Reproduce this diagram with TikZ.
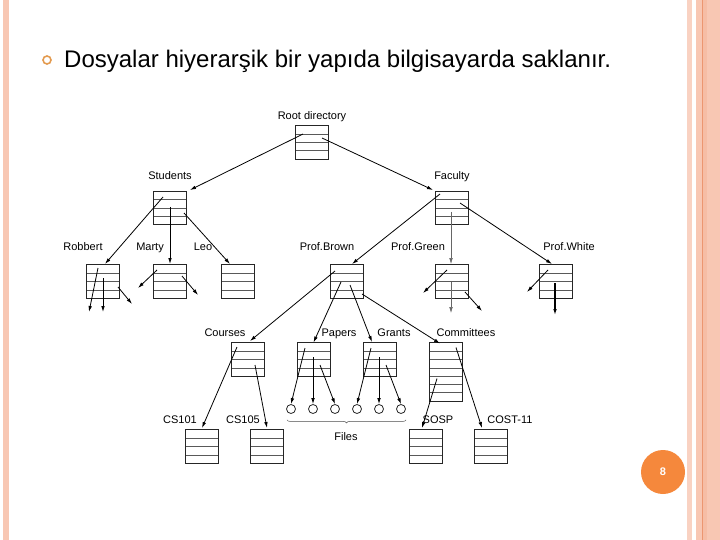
\documentclass[tikz,border=0pt]{standalone}
\usepackage{fontspec}
\setmainfont{Liberation Sans}
\usetikzlibrary{arrows.meta,decorations.pathreplacing}

\definecolor{slideline}{HTML}{F8C7B3}
\definecolor{slidedark}{HTML}{EC9670}
\definecolor{pagedot}{HTML}{F5883C}
\definecolor{bulletcol}{HTML}{E39A4E}

\tikzset{
  dirbox/.style={draw=black!85, line width=1pt, inner sep=0pt,
    minimum width=33pt, minimum height=#1*8.3pt,
    path picture={\foreach \r in {1,...,#1}{\draw[black!65, line width=0.6pt]
      ([yshift=-\r*8.3pt]path picture bounding box.north west) --
      ([yshift=-\r*8.3pt]path picture bounding box.north east);}}},
  dirbox/.default=4,
  lbl/.style={font=\fontsize{11}{13}\selectfont, inner sep=0pt, text height=8pt, text depth=2pt},
  file/.style={circle, draw=black!85, line width=0.8pt, minimum size=9pt, inner sep=0pt},
  arr/.style={-{Latex[length=6pt,width=3.6pt]}, line width=0.8pt},
  thinarr/.style={arr, black!60, line width=0.5pt}
}

\begin{document}
\begin{tikzpicture}[x=1pt,y=-1pt]
    \useasboundingbox (0,0) rectangle (720,540);
    % slide frame
    \fill[slideline] (3,0) rectangle (9,540);
    \fill[slideline!80] (687,0) rectangle (692,540);
    \fill[slideline] (696,0) rectangle (720,540);
    \fill[slideline!80!slidedark] (702,0) rectangle (707,540);
    \draw[slidedark, line width=0.6pt] (702,0) -- (702,540);
    \node[circle, fill=pagedot, minimum size=44pt, inner sep=0pt, text=white,
      font=\fontsize{11}{13}\selectfont\bfseries] (page) at (663,472) {8};

    % title
    \node[circle, draw=bulletcol, line width=1.6pt, minimum size=8pt, inner sep=0pt] (bullet) at (47,60) {};
    \node[anchor=base west, inner sep=0pt, font=\fontsize{24}{28}\selectfont] (title) at (64,68)
      {Dosyalar hiyerarşik bir yapıda bilgisayarda saklanır.};

    % directories
    \node[dirbox] (root) at (312,142.5) {};
    \node[dirbox] (students) at (170,208) {};
    \node[dirbox] (faculty) at (451.5,208) {};
    \node[dirbox] (robbert) at (103,281.5) {};
    \node[dirbox] (marty) at (170,281.5) {};
    \node[dirbox] (leo) at (237.5,281.5) {};
    \node[dirbox] (brown) at (346.5,281.5) {};
    \node[dirbox] (green) at (451.5,281.5) {};
    \node[dirbox] (white) at (556,281.5) {};
    \node[dirbox] (courses) at (248,359.5) {};
    \node[dirbox] (papers) at (313.5,359.5) {};
    \node[dirbox] (grants) at (379.5,359.5) {};
    \node[dirbox=7] (committees) at (445.5,372) {};
    \node[dirbox] (cs101) at (202,446.5) {};
    \node[dirbox] (cs105) at (267,446.5) {};
    \node[dirbox] (sosp) at (425.5,446.5) {};
    \node[dirbox] (cost) at (490.5,446.5) {};

    % files
    \foreach \i in {1,...,6}
        \node[file] (f\i) at (269+22*\i,409) {};
    \draw[decorate, decoration={brace, mirror, amplitude=3pt}, black!70, line width=0.5pt]
        ([xshift=-4pt,yshift=-6pt]f1.south) -- ([xshift=5pt,yshift=-6pt]f6.south);

    % labels
    \node[lbl] (lroot) at (312,117) {Root directory};
    \node[lbl] (lstudents) at (170,177) {Students};
    \node[lbl] (lfaculty) at (452,177) {Faculty};
    \node[lbl] (lrobbert) at (83,248) {Robbert};
    \node[lbl] (lmarty) at (150,248) {Marty};
    \node[lbl] (lleo) at (203,248) {Leo};
    \node[lbl] (lbrown) at (327,248) {Prof.Brown};
    \node[lbl] (lgreen) at (418,248) {Prof.Green};
    \node[lbl] (lwhite) at (569,248) {Prof.White};
    \node[lbl] (lcourses) at (225,333) {Courses};
    \node[lbl] (lpapers) at (339,333) {Papers};
    \node[lbl] (lgrants) at (394,333) {Grants};
    \node[lbl] (lcommittees) at (466,333) {Committees};
    \node[lbl] (lcs101) at (180,420) {CS101};
    \node[lbl] (lcs105) at (243,420) {CS105};
    \node[lbl] (lsosp) at (438,420) {SOSP};
    \node[lbl] (lcost) at (510,420) {COST-11};
    \node[lbl] (lfiles) at (346,437) {Files};

    % links
    \draw[arr] ([shift={(-9,-8.5)}]root.center) -- ([shift={(20,-18)}]students.center);
    \draw[arr] ([shift={(10,-4.5)}]root.center) -- ([shift={(-18.5,-18)}]faculty.center);
    \draw[arr] ([shift={(-7,-11)}]students.center) -- ([shift={(2,-17.5)}]robbert.center);
    \draw[arr] ([shift={(0,-1)}]students.center) -- ([shift={(0,-17.5)}]marty.center);
    \draw[arr] ([shift={(14,5)}]students.center) -- ([shift={(-7.5,-17.5)}]leo.center);
    \draw[arr] ([shift={(-11.5,-14)}]faculty.center) -- ([shift={(5.5,-17.5)}]brown.center);
    \draw[thinarr] ([shift={(-0.5,4)}]faculty.center) -- ([shift={(-0.5,-17.5)}]green.center);
    \draw[arr] ([shift={(8.5,-5)}]faculty.center) -- ([shift={(-4,-17.5)}]white.center);
    % links leaving the picture
    \draw[arr] ([shift={(-5,-13.5)}]robbert.center) -- ([shift={(-14,30.5)}]robbert.center);
    \draw[arr] ([shift={(0,-3.5)}]robbert.center) -- ([shift={(0,30.5)}]robbert.center);
    \draw[arr] ([shift={(15,5.5)}]robbert.center) -- ([shift={(29,22.5)}]robbert.center);
    \draw[arr] ([shift={(-13,-11.5)}]marty.center) -- ([shift={(-32,6.5)}]marty.center);
    \draw[arr] ([shift={(12,-5.5)}]marty.center) -- ([shift={(28,13.5)}]marty.center);
    \draw[arr] ([shift={(-4.5,-11.5)}]green.center) -- ([shift={(-28.5,11.5)}]green.center);
    \draw[thinarr] ([shift={(-0.5,0.5)}]green.center) -- ([shift={(-0.5,31.5)}]green.center);
    \draw[arr] ([shift={(13.5,10.5)}]green.center) -- ([shift={(30.5,29.5)}]green.center);
    \draw[arr] ([shift={(-8,-11.5)}]white.center) -- ([shift={(-29,10.5)}]white.center);
    \draw[arr, line width=1.1pt] ([shift={(-1,1.5)}]white.center) -- ([shift={(-1,33.5)}]white.center);
    % Prof.Brown
    \draw[arr] ([shift={(-11.5,-10.5)}]brown.center) -- ([shift={(2,-18.5)}]courses.center);
    \draw[arr] ([shift={(-5.5,0.5)}]brown.center) -- ([shift={(0,-17)}]papers.center);
    \draw[arr] ([shift={(3.5,3.5)}]brown.center) -- ([shift={(-7.5,-17.5)}]grants.center);
    \draw[arr] ([shift={(15.5,12.5)}]brown.center) -- ([shift={(-5.5,-28.5)}]committees.center);
    \draw[arr] ([shift={(-11,-12.5)}]courses.center) -- ([shift={(0,-18.5)}]cs101.center);
    \draw[arr] ([shift={(7,5.5)}]courses.center) -- ([shift={(0,-18.5)}]cs105.center);
    \draw[arr] ([shift={(-8.5,-11.5)}]papers.center) -- (f1.north);
    \draw[arr] ([shift={(-0.5,-2.5)}]papers.center) -- (f2.north);
    \draw[arr] ([shift={(6.5,5.5)}]papers.center) -- (f3.north);
    \draw[arr] ([shift={(-8.5,-11.5)}]grants.center) -- (f4.north);
    \draw[arr] ([shift={(-0.5,-2.5)}]grants.center) -- (f5.north);
    \draw[arr] ([shift={(6.5,5.5)}]grants.center) -- (f6.north);
    \draw[arr] ([shift={(-8.5,6.5)}]committees.center) -- ([shift={(-3.5,-18.5)}]sosp.center);
    \draw[arr] ([shift={(10.5,-24.5)}]committees.center) -- ([shift={(-8.5,-18.5)}]cost.center);
\end{tikzpicture}
\end{document}
